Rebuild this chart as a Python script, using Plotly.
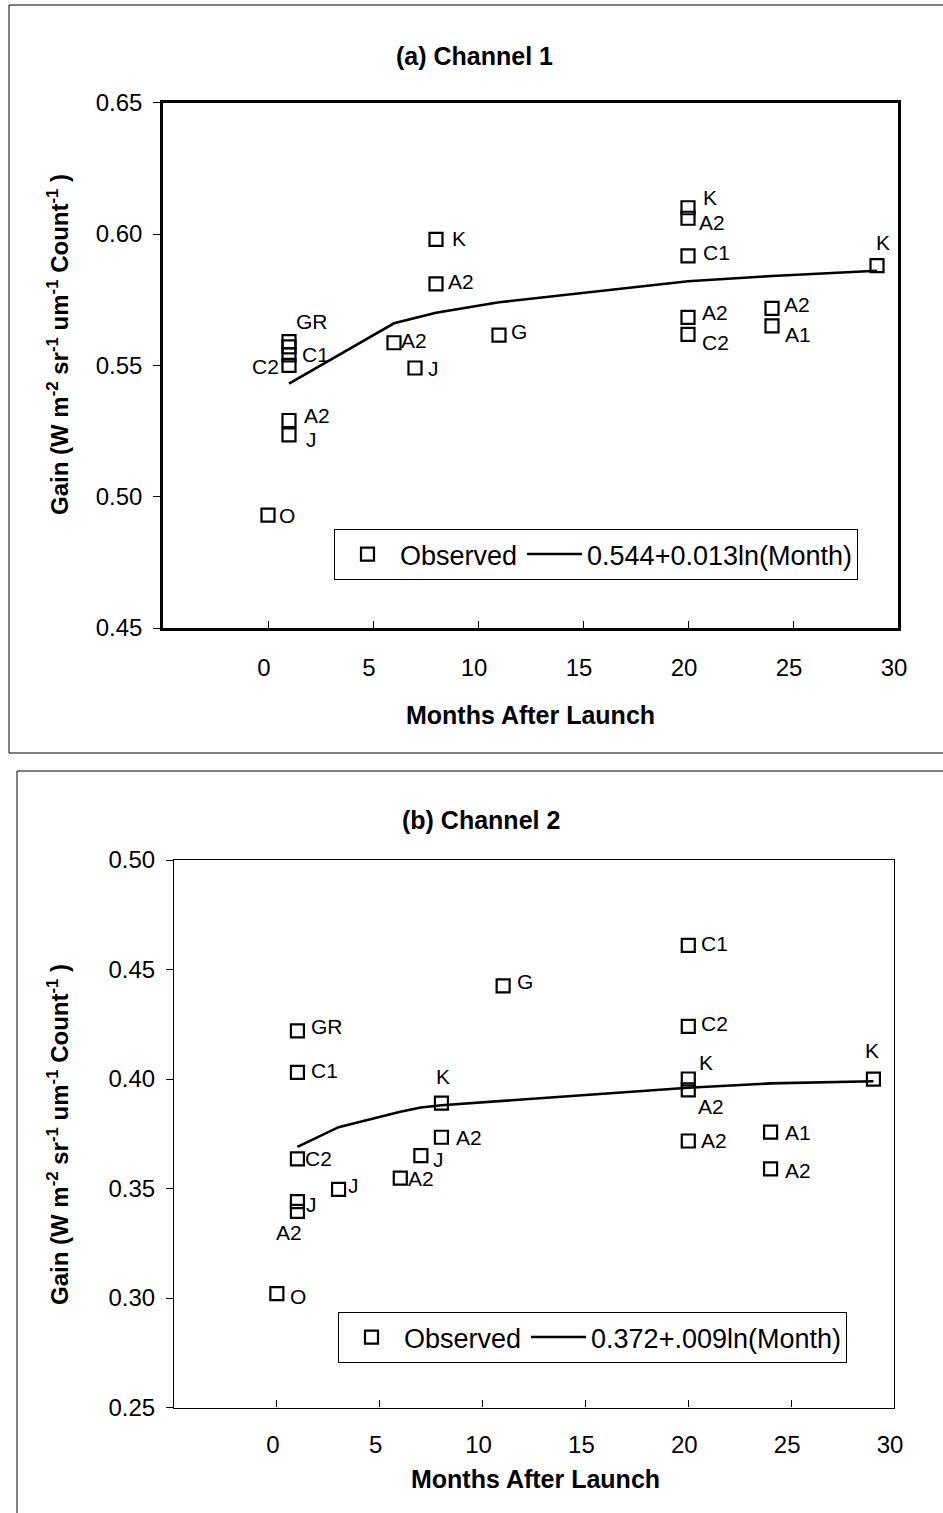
import plotly.graph_objects as go

W, H = 943, 1513
FONT = "Liberation Sans, Arial, sans-serif"

# ---------------- Data: (a) Channel 1 ----------------
ch1_month = [0, 1, 1, 1, 1, 1, 1, 6, 7, 8, 8, 11, 20, 20, 20, 20, 20, 24, 24, 29]
ch1_gain = [0.493, 0.559, 0.557, 0.554, 0.550, 0.529, 0.5235, 0.5586, 0.549, 0.598,
            0.581, 0.5615, 0.610, 0.606, 0.5917, 0.5683, 0.5618, 0.5717, 0.565, 0.588]
ch1_label = ["O", "GR", "", "C1", "C2", "A2", "J", "A2", "J", "K",
             "A2", "G", "K", "A2", "C1", "A2", "C2", "A2", "A1", "K"]
ch1_fit_month = [1, 6, 7, 8, 11, 20, 24, 29]
ch1_fit_gain = [0.543, 0.566, 0.568, 0.570, 0.574, 0.582, 0.584, 0.586]
ch1_fit_name = "0.544+0.013ln(Month)"

# ---------------- Data: (b) Channel 2 ----------------
ch2_month = [0, 1, 1, 1, 1, 1, 3, 6, 7, 8, 8, 11, 20, 20, 20, 20, 20, 24, 24, 29]
ch2_gain = [0.302, 0.422, 0.403, 0.3635, 0.344, 0.3396, 0.3496, 0.3547, 0.365, 0.389,
            0.3734, 0.4425, 0.461, 0.424, 0.400, 0.395, 0.3717, 0.3757, 0.359, 0.3999]
ch2_label = ["O", "GR", "C1", "C2", "J", "A2", "J", "A2", "J", "K",
             "A2", "G", "C1", "C2", "K", "A2", "A2", "A1", "A2", "K"]
ch2_fit_month = [1, 3, 6, 7, 8, 11, 20, 24, 29]
ch2_fit_gain = [0.369, 0.378, 0.385, 0.387, 0.388, 0.390, 0.396, 0.398, 0.399]
ch2_fit_name = "0.372+.009ln(Month)"

x_ticks = [0, 5, 10, 15, 20, 25, 30]
ch1_yticks = [0.45, 0.50, 0.55, 0.60, 0.65]
ch2_yticks = [0.25, 0.30, 0.35, 0.40, 0.45, 0.50]

# ---------------- Styling: label offsets from their marker (px, right / down) ----------------
ch1_label_dx = [19, 23, 0, 26, -24, 28, 22, 20, 18, 23, 25, 20, 22, 24, 28, 27, 27, 25, 26, 6]
ch1_label_dy = [0, -20, 0, 0, 1, -5, 5, -2, 1, -1, -2, -4, -10, 4, -3, -5, 8, -4, 9, -23]
ch2_label_dx = [21, 30, 27, 21, 14, -8, 15, 21, 18, 2, 28, 22, 26, 26, 18, 23, 26, 27, 27, -1]
ch2_label_dy = [3, -4, -2, 0, 3, 21, -4, 0, 4, -27, 0, -4, -2, -3, -17, 17, 0, 0, 2, -29]

marker_style = dict(symbol="square-open", size=13, color="black", line=dict(width=2.2, color="black"))
label_font = dict(family=FONT, size=21, color="black")

fig = go.Figure()
annotations = []

panels = [
    (ch1_month, ch1_gain, ch1_label, ch1_label_dx, ch1_label_dy,
     ch1_fit_month, ch1_fit_gain, ch1_fit_name, "x", "y", "legend"),
    (ch2_month, ch2_gain, ch2_label, ch2_label_dx, ch2_label_dy,
     ch2_fit_month, ch2_fit_gain, ch2_fit_name, "x2", "y2", "legend2"),
]
for m, g, lab, dxs, dys, fm, fg, fname, xa, ya, lg in panels:
    fig.add_trace(go.Scatter(x=m, y=g, mode="markers", marker=marker_style, name="Observed",
                             xaxis=xa, yaxis=ya, legend=lg, cliponaxis=False))
    fig.add_trace(go.Scatter(x=fm, y=fg, mode="lines", line=dict(color="black", width=2.6),
                             name=fname, xaxis=xa, yaxis=ya, legend=lg))
    for xi, yi, t, dx, dy in zip(m, g, lab, dxs, dys):
        if not t:
            continue
        annotations.append(dict(text=t, x=xi, y=yi, xref=xa, yref=ya, showarrow=False,
                                xanchor="center", yanchor="middle", xshift=dx, yshift=-dy,
                                font=label_font))

def px_x(p):
    return p / W

def px_y(p):
    return 1 - p / H

tick_font = dict(family=FONT, size=24, color="black")

def xaxis_cfg(l, r, anchor, lw):
    return dict(domain=[px_x(l), px_x(r)], range=[-5, 30], tickvals=x_ticks,
                ticks="inside", ticklen=7, tickwidth=1, tickcolor="black",
                showline=True, mirror=True, linecolor="black", linewidth=lw,
                showgrid=False, zeroline=False, tickfont=tick_font, automargin=False,
                ticklabelstandoff=16, ticklabelshift=-4, anchor=anchor, fixedrange=True)

def yaxis_cfg(top, bottom, rng, tv, anchor, lw):
    return dict(domain=[px_y(bottom), px_y(top)], range=rng, tickvals=tv,
                tickformat=".2f", ticks="outside", ticklen=7, tickwidth=1, tickcolor="black",
                showline=True, mirror=True, linecolor="black", linewidth=lw,
                showgrid=False, zeroline=False, tickfont=tick_font, anchor=anchor,
                ticklabelstandoff=6, automargin=False, fixedrange=True)

legend_common = dict(orientation="h", xanchor="left", yanchor="top", bgcolor="white",
                     bordercolor="black", borderwidth=1, itemwidth=55,
                     font=dict(family=FONT, size=27, color="black"), xref="paper", yref="paper")

title_font = dict(family=FONT, size=25, color="black")
ytitle = "<b>Gain (W m<sup>-2</sup> sr<sup>-1</sup> um<sup>-1</sup> Count<sup>-1</sup> )</b>"

annotations += [
    dict(text="<b>(a) Channel 1</b>", x=px_x(474), y=px_y(56), xref="paper", yref="paper",
         xanchor="center", yanchor="middle", showarrow=False, font=title_font),
    dict(text="<b>(b) Channel 2</b>", x=px_x(481), y=px_y(820), xref="paper", yref="paper",
         xanchor="center", yanchor="middle", showarrow=False, font=title_font),
    dict(text="<b>Months After Launch</b>", x=px_x(530), y=px_y(715), xref="paper", yref="paper",
         xanchor="center", yanchor="middle", showarrow=False, font=title_font),
    dict(text="<b>Months After Launch</b>", x=px_x(535), y=px_y(1479), xref="paper", yref="paper",
         xanchor="center", yanchor="middle", showarrow=False, font=title_font),
    dict(text=ytitle, textangle=-90, x=px_x(58), y=px_y(345), xref="paper", yref="paper",
         xanchor="center", yanchor="middle", showarrow=False, font=dict(family=FONT, size=24, color="black")),
    dict(text=ytitle, textangle=-90, x=px_x(58), y=px_y(1135), xref="paper", yref="paper",
         xanchor="center", yanchor="middle", showarrow=False, font=dict(family=FONT, size=24, color="black")),
]

fig.update_layout(
    template="none",
    width=W, height=H, autosize=False,
    margin=dict(l=0, r=0, t=0, b=0, pad=0, autoexpand=False),
    paper_bgcolor="white", plot_bgcolor="white",
    font=dict(family=FONT, color="black"),
    xaxis=xaxis_cfg(163, 898, "y", 2.5),
    yaxis=yaxis_cfg(102.7, 628, [0.45, 0.65], ch1_yticks, "x", 2.5),
    xaxis2=xaxis_cfg(174, 894, "y2", 1.2),
    yaxis2=yaxis_cfg(860, 1407.5, [0.25, 0.50], ch2_yticks, "x2", 1.2),
    legend=dict(x=px_x(334), y=px_y(529), **legend_common),
    legend2=dict(x=px_x(338), y=px_y(1312), **legend_common),
    shapes=[
        dict(type="rect", xref="paper", yref="paper", x0=px_x(9), x1=1.05, y0=px_y(753), y1=px_y(5),
             line=dict(color="black", width=1)),
        dict(type="rect", xref="paper", yref="paper", x0=px_x(17), x1=1.05, y0=-0.05, y1=px_y(771),
             line=dict(color="black", width=1)),
    ],
    annotations=annotations,
)

fig.write_html("out.html")
